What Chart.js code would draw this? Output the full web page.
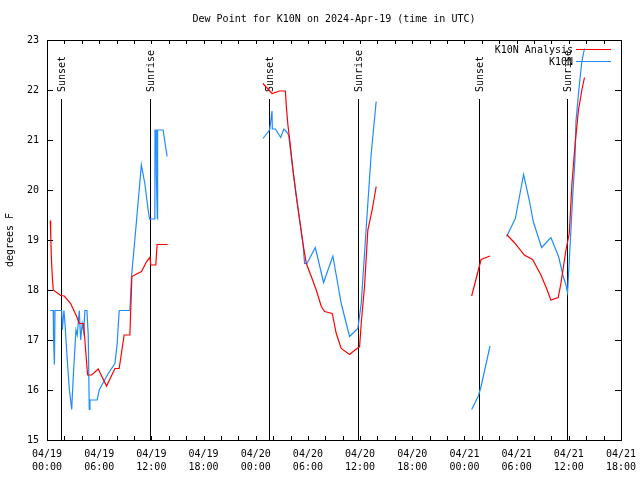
<!DOCTYPE html>
<html>
<head>
<meta charset="utf-8">
<script src="https://cdn.jsdelivr.net/npm/chart.js@4.4.1/dist/chart.umd.min.js"></script>
<style>
  html, body { margin: 0; padding: 0; background: #fff; }
</style>
</head>
<body>
<canvas id="dew" width="640" height="480"></canvas>
<script>
// hours since 04/19 00:00 UTC, a null dew value breaks the line
const analysisHours = [0.38, 0.42, 0.5, 0.62, 0.72, 1.57, 1.99, 2.72, 3.41, 3.71, 4.21, 4.44, 4.67, 5.13, 5.89,
  6.85, 7.81, 8.3, 8.87, 9.53, 9.76, 10.3, 10.87, 11.45, 11.83, 11.94, 12.51, 12.66, 13.86,
  19,
  24.83, 25.87, 26.75, 27.41, 27.52, 27.7, 27.93, 28.28, 28.67, 29.05, 29.43, 29.82, 30.39, 30.96,
  31.54, 31.92, 32.8, 33.26, 33.83, 34.79, 35.63, 35.94, 36.13, 36.51, 36.89, 37.39, 37.85,
  43,
  48.83, 49.6, 49.91, 50.94,
  52,
  52.85, 53.73, 54.88, 55.83, 56.8, 57.44, 57.94, 58.78, 59.09, 59.67, 60.05, 60.36, 60.73, 61.11, 61.5, 61.8];
const analysisDew = [19.39, 19.15, 18.65, 18.24, 18.0, 17.89, 17.88, 17.73, 17.47, 17.33, 17.33, 16.8, 16.3, 16.3, 16.42,
  16.08, 16.43, 16.43, 17.1, 17.1, 18.27, 18.32, 18.37, 18.57, 18.65, 18.5, 18.5, 18.91, 18.91,
  null,
  22.13, 21.93, 21.98, 21.98, 21.67, 21.3, 20.97, 20.4, 19.87, 19.4, 18.93, 18.53, 18.27, 18.0,
  17.67, 17.57, 17.53, 17.13, 16.83, 16.71, 16.83, 16.86, 17.33, 18.07, 19.2, 19.6, 20.07,
  null,
  17.88, 18.4, 18.61, 18.68,
  null,
  19.11, 18.95, 18.7, 18.61, 18.3, 18.03, 17.8, 17.85, 18.13, 18.8, 19.13, 20.13, 20.93, 21.6, 22.0, 22.25];

const stationHours = [0.38, 0.72, 0.75, 0.85, 0.92, 1.69, 1.76, 1.95, 2.07, 2.33, 2.56, 2.84, 3.02, 3.33, 3.48,
  3.71, 3.87, 4.05, 4.21, 4.36, 4.59, 4.74, 4.86, 4.94, 5.77, 6.0, 7.04, 7.81, 8.07, 8.3,
  9.53, 9.72, 10.3, 10.85, 11.25, 11.63, 11.79, 12.4, 12.42, 12.54, 12.57, 12.69, 12.72, 13.35, 13.81,
  19,
  24.83, 25.6, 25.87, 25.91, 26.26, 26.87, 27.24, 27.52, 27.78, 28.28, 28.67, 29.05, 29.43, 29.62,
  29.89, 30.85, 31.8, 32.87, 33.83, 34.79, 35.74, 36.13, 36.51, 36.89, 37.28, 37.85,
  43,
  48.83, 49.6, 49.91, 50.94,
  52,
  52.85, 53.85, 54.39, 54.8, 55.45, 55.91, 56.87, 57.94, 58.82, 59.36, 59.67, 59.85, 60.05, 60.42,
  60.7, 60.82, 61.19, 61.5, 61.8];
const stationDew = [17.59, 17.59, 17.07, 16.51, 17.59, 17.59, 17.2, 17.59, 17.33, 16.6, 16.03, 15.61, 16.27, 17.2, 17.1,
  17.59, 17.0, 17.33, 17.17, 17.59, 17.59, 17.1, 15.61, 15.8, 15.8, 16.0, 16.33, 16.53, 16.93, 17.59,
  17.59, 18.27, 19.4, 20.5, 20.13, 19.6, 19.42, 19.42, 21.2, 21.2, 20.33, 19.42, 21.2, 21.2, 20.67,
  null,
  21.03, 21.2, 21.58, 21.22, 21.22, 21.05, 21.22, 21.17, 21.1, 20.4, 19.87, 19.4, 18.93, 18.53,
  18.53, 18.85, 18.15, 18.68, 17.73, 17.07, 17.23, 17.73, 18.73, 19.73, 20.73, 21.77,
  null,
  15.61, 15.88, 16.07, 16.88,
  null,
  19.07, 19.43, 19.93, 20.31, 19.8, 19.37, 18.85, 19.05, 18.67, 18.27, 18.1, 17.95, 18.57, 19.8,
  20.6, 21.37, 22.07, 22.57, 22.83];

const sunsetHours = [1.6, 25.55, 49.72];
const sunriseHours = [11.8, 35.76, 59.82];

const tickDays = ["04/19", "04/19", "04/19", "04/19", "04/20", "04/20", "04/20", "04/20", "04/21", "04/21", "04/21", "04/21"];
const tickTimes = ["00:00", "06:00", "12:00", "18:00", "00:00", "06:00", "12:00", "18:00", "00:00", "06:00", "12:00", "18:00"];

const MONO = "'DejaVu Sans Mono', 'Liberation Mono', monospace";
const FONT = "10px " + MONO;

function toPoints(hours, values) {
  return hours.map((h, i) => ({ x: h, y: values[i] }));
}

// gnuplot style frame, inward ticks, sun markers, legend and titles
const gnuplotFrame = {
  id: "gnuplotFrame",
  beforeDatasetsDraw(chart) {
    const { ctx, chartArea: a, scales: { x } } = chart;
    ctx.save();
    ctx.strokeStyle = "#000";
    ctx.fillStyle = "#000";
    ctx.lineWidth = 1;
    ctx.font = FONT;
    const mark = (h, label) => {
      const px = Math.round(x.getPixelForValue(h)) + 0.5;
      ctx.beginPath();
      ctx.moveTo(px, a.top + 59);
      ctx.lineTo(px, a.bottom);
      ctx.stroke();
      ctx.save();
      ctx.translate(px + 1, a.top + 52);
      ctx.rotate(-Math.PI / 2);
      ctx.textAlign = "left";
      ctx.textBaseline = "middle";
      ctx.fillText(label, 0, 0);
      ctx.restore();
    };
    sunsetHours.forEach(h => mark(h, "Sunset"));
    sunriseHours.forEach(h => mark(h, "Sunrise"));
    ctx.restore();
  },
  afterDatasetsDraw(chart) {
    const { ctx, chartArea: a, scales: { x, y } } = chart;
    ctx.save();
    ctx.strokeStyle = "#000";
    ctx.fillStyle = "#000";
    ctx.lineWidth = 1;
    ctx.strokeRect(a.left + 0.5, a.top + 0.5, a.right - a.left, a.bottom - a.top);

    ctx.beginPath();
    for (let h = 2; h < 66; h += 2) {
      const px = Math.round(x.getPixelForValue(h)) + 0.5;
      ctx.moveTo(px, a.bottom); ctx.lineTo(px, a.bottom - 4);
      ctx.moveTo(px, a.top); ctx.lineTo(px, a.top + 4);
    }
    for (let v = 16; v < 23; v++) {
      const py = Math.round(y.getPixelForValue(v)) + 0.5;
      ctx.moveTo(a.left, py); ctx.lineTo(a.left + 6, py);
      ctx.moveTo(a.right, py); ctx.lineTo(a.right - 6, py);
    }
    ctx.stroke();

    ctx.font = FONT;
    ctx.textAlign = "center";
    ctx.textBaseline = "middle";
    ctx.fillText("Dew Point for K10N on 2024-Apr-19 (time in UTC)", (a.left + a.right) / 2, 19);

    ctx.save();
    ctx.translate(10, 240);
    ctx.rotate(-Math.PI / 2);
    ctx.fillText("degrees F", 0, 0);
    ctx.restore();

    // legend
    ctx.textAlign = "right";
    chart.data.datasets.forEach((ds, i) => {
      const ly = 50 + i * 12;
      ctx.fillStyle = "#000";
      ctx.fillText(ds.label, 573, ly);
      ctx.strokeStyle = ds.borderColor;
      ctx.beginPath();
      ctx.moveTo(576, ly - 0.5);
      ctx.lineTo(611, ly - 0.5);
      ctx.stroke();
    });
    ctx.restore();
  }
};

new Chart(document.getElementById("dew"), {
  type: "line",
  data: {
    datasets: [
      {
        label: "K10N Analysis",
        data: toPoints(analysisHours, analysisDew),
        borderColor: "#ff0000",
        borderWidth: 1.2,
        pointRadius: 0,
        tension: 0,
        spanGaps: false,
      },
      {
        label: "K10N",
        data: toPoints(stationHours, stationDew),
        borderColor: "#1e8cff",
        borderWidth: 1.2,
        pointRadius: 0,
        tension: 0,
        spanGaps: false,
      },
    ],
  },
  options: {
    responsive: false,
    animation: false,
    devicePixelRatio: 1,
    layout: { padding: { top: 40, right: 19, left: 0, bottom: 0 } },
    plugins: {
      legend: { display: false },
      title: { display: false },
      tooltip: { enabled: false },
    },
    scales: {
      x: {
        type: "linear",
        min: 0,
        max: 66,
        grid: { display: false, drawTicks: false },
        border: { display: false },
        afterFit(scale) {
          scale.height = 40;
          scale.paddingLeft = 0;
          scale.paddingRight = 0;
        },
        ticks: {
          stepSize: 6,
          autoSkip: false,
          maxRotation: 0,
          padding: 8,
          color: "#000",
          font: { family: MONO, size: 10, lineHeight: 1.3 },
          callback: (v) => [tickDays[v / 6], tickTimes[v / 6]],
        },
      },
      y: {
        min: 15,
        max: 23,
        grid: { display: false, drawTicks: false },
        border: { display: false },
        afterFit(scale) {
          scale.width = 47;
          scale.paddingTop = 0;
          scale.paddingBottom = 0;
        },
        ticks: {
          stepSize: 1,
          padding: 8,
          color: "#000",
          font: { family: MONO, size: 10 },
        },
      },
    },
  },
  plugins: [gnuplotFrame],
});
</script>
</body>
</html>
